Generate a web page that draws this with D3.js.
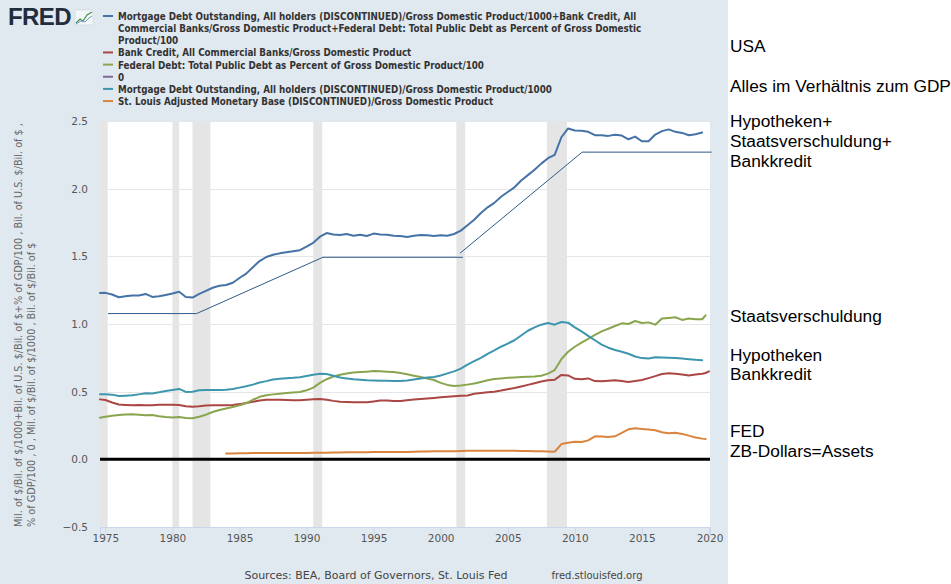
<!DOCTYPE html>
<html><head><meta charset="utf-8">
<script src="https://cdn.jsdelivr.net/npm/d3@7"></script>
<style>
html,body{margin:0;padding:0;background:#fff;}
svg{display:block;}
</style></head>
<body>
<svg id="chart" width="951" height="584"></svg>
<script>
// ---------- DATA ----------
const years = [1974.6,
 1975,1975.5,1976,1976.5,1977,1977.5,1978,1978.5,1979,1979.5,
 1980,1980.5,1981,1981.5,1982,1982.5,1983,1983.5,1984,1984.5,
 1985,1985.5,1986,1986.5,1987,1987.5,1988,1988.5,1989,1989.5,
 1990,1990.5,1991,1991.5,1992,1992.5,1993,1993.5,1994,1994.5,
 1995,1995.5,1996,1996.5,1997,1997.5,1998,1998.5,1999,1999.5,
 2000,2000.5,2001,2001.5,2002,2002.5,2003,2003.5,2004,2004.5,
 2005,2005.5,2006,2006.5,2007,2007.5,2008,2008.5,2009,2009.5,
 2010,2010.5,2011,2011.5,2012,2012.5,2013,2013.5,2014,2014.5,
 2015,2015.5,2016,2016.5,2017,2017.5,2018,2018.5,2019,2019.5,
 2019.75,2020];

// Sum series (blue)
const sumSeries = [1.229,
 1.230,1.218,1.198,1.205,1.210,1.210,1.222,1.200,1.205,1.215,
 1.225,1.238,1.200,1.195,1.222,1.245,1.268,1.282,1.288,1.305,
 1.340,1.372,1.420,1.465,1.495,1.512,1.522,1.530,1.538,1.545,
 1.572,1.600,1.645,1.672,1.662,1.658,1.665,1.652,1.660,1.650,
 1.668,1.662,1.660,1.652,1.650,1.643,1.652,1.658,1.655,1.650,
 1.655,1.652,1.665,1.690,1.730,1.770,1.820,1.862,1.895,1.940,
 1.975,2.010,2.060,2.100,2.140,2.185,2.225,2.250,2.380,2.445,
 2.430,2.428,2.420,2.395,2.395,2.390,2.398,2.392,2.365,2.385,
 2.350,2.350,2.400,2.425,2.438,2.420,2.412,2.395,2.402,2.415,
 null,null];

// Bank credit / GDP (red)
const bankCredit = [0.443,
 0.438,0.420,0.405,0.402,0.400,0.402,0.399,0.400,0.403,0.404,
 0.404,0.402,0.393,0.388,0.392,0.398,0.400,0.399,0.399,0.402,
 0.408,0.416,0.425,0.434,0.441,0.441,0.440,0.438,0.436,0.436,
 0.440,0.444,0.446,0.440,0.432,0.426,0.424,0.422,0.421,0.421,
 0.428,0.435,0.434,0.431,0.431,0.436,0.442,0.446,0.450,0.454,
 0.458,0.462,0.466,0.469,0.472,0.485,0.490,0.495,0.500,0.508,
 0.518,0.527,0.538,0.550,0.562,0.575,0.584,0.588,0.624,0.620,
 0.595,0.592,0.598,0.578,0.577,0.581,0.584,0.578,0.572,0.579,
 0.586,0.600,0.615,0.630,0.636,0.632,0.626,0.620,0.626,0.633,
 0.638,0.650];

// Federal debt % GDP / 100 (green)
const fedDebt = [0.308,
 0.315,0.322,0.328,0.332,0.334,0.330,0.326,0.327,0.318,0.312,
 0.310,0.312,0.306,0.304,0.315,0.330,0.350,0.365,0.375,0.387,
 0.400,0.415,0.440,0.462,0.473,0.480,0.485,0.490,0.493,0.497,
 0.510,0.530,0.565,0.592,0.612,0.625,0.635,0.642,0.645,0.648,
 0.652,0.650,0.648,0.645,0.638,0.628,0.618,0.608,0.598,0.586,
 0.565,0.550,0.542,0.545,0.552,0.560,0.572,0.585,0.594,0.598,
 0.602,0.605,0.608,0.610,0.612,0.618,0.633,0.660,0.740,0.795,
 0.832,0.862,0.890,0.920,0.945,0.965,0.985,1.005,1.000,1.022,
 1.008,1.012,0.995,1.040,1.045,1.050,1.030,1.040,1.035,1.035,
 1.064,null];

// Mortgage debt / GDP / 1000 (teal)
const mortgage = [0.480,
 0.480,0.478,0.468,0.470,0.473,0.480,0.488,0.487,0.495,0.505,
 0.512,0.520,0.498,0.500,0.510,0.512,0.512,0.513,0.515,0.520,
 0.530,0.540,0.552,0.568,0.578,0.590,0.595,0.600,0.602,0.606,
 0.615,0.625,0.632,0.630,0.618,0.605,0.598,0.592,0.588,0.584,
 0.582,0.581,0.580,0.579,0.579,0.582,0.590,0.598,0.604,0.608,
 0.620,0.635,0.650,0.670,0.700,0.725,0.750,0.780,0.805,0.832,
 0.855,0.880,0.915,0.950,0.975,0.995,1.008,0.995,1.015,1.010,
 0.975,0.945,0.912,0.880,0.848,0.825,0.808,0.795,0.780,0.760,
 0.748,0.745,0.754,0.752,0.750,0.749,0.745,0.740,0.735,0.732,
 null,null];

// St. Louis adjusted monetary base / GDP (orange)
const monetaryBase = [null,
 null,null,null,null,null,null,null,null,null,null,
 null,null,null,null,null,null,null,null,0.044,0.044,
 0.045,0.045,0.046,0.046,0.047,0.047,0.047,0.047,0.046,0.046,
 0.047,0.048,0.049,0.049,0.050,0.051,0.052,0.052,0.053,0.053,
 0.054,0.054,0.054,0.054,0.055,0.055,0.056,0.057,0.058,0.059,
 0.060,0.060,0.060,0.061,0.063,0.063,0.064,0.064,0.064,0.064,
 0.063,0.063,0.062,0.062,0.060,0.059,0.058,0.056,0.113,0.122,
 0.130,0.128,0.140,0.170,0.168,0.165,0.170,0.195,0.222,0.230,
 0.225,0.220,0.215,0.200,0.192,0.196,0.188,0.175,0.162,0.153,
 0.150,null];

// Zero line
const zeroLine = [0, 0];
const zeroYears = [1974.6, 2020.08];

const yTicks = [-0.5, 0.0, 0.5, 1.0, 1.5, 2.0, 2.5];
const xTicks = [1975,1980,1985,1990,1995,2000,2005,2010,2015,2020];

// NBER recessions (start, end)
const recessions = [[1974.6,1975.17],[1980.0,1980.5],[1981.5,1982.83],
  [1990.5,1991.17],[2001.17,2001.83],[2007.92,2009.42]];

// Hand-drawn annotation (year, value)
const annotYears  = [1975.2, 1981.8, 1991.22, 2001.66];
const annotValues = [1.077, 1.077, 1.493, 1.493];
const annot2Years  = [2001.44, 2010.55, 2020.2];
const annot2Values = [1.523, 2.270, 2.270];

const legendItems = [
  {label:["Mortgage Debt Outstanding, All holders (DISCONTINUED)/Gross Domestic Product/1000+Bank Credit, All",
          "Commercial Banks/Gross Domestic Product+Federal Debt: Total Public Debt as Percent of Gross Domestic",
          "Product/100"], color:"#4572a7"},
  {label:["Bank Credit, All Commercial Banks/Gross Domestic Product"], color:"#aa4643"},
  {label:["Federal Debt: Total Public Debt as Percent of Gross Domestic Product/100"], color:"#89a54e"},
  {label:["0"], color:"#80699b"},
  {label:["Mortgage Debt Outstanding, All holders (DISCONTINUED)/Gross Domestic Product/1000"], color:"#3d96ae"},
  {label:["St. Louis Adjusted Monetary Base (DISCONTINUED)/Gross Domestic Product"], color:"#db843d"}
];

const sideNotes = [
  {text:"USA", y:52},
  {text:"Alles im Verhältnis zum GDP", y:92},
  {text:"Hypotheken+", y:127},
  {text:"Staatsverschuldung+", y:147},
  {text:"Bankkredit", y:167},
  {text:"Staatsverschuldung", y:322},
  {text:"Hypotheken", y:361},
  {text:"Bankkredit", y:380},
  {text:"FED", y:437},
  {text:"ZB-Dollars=Assets", y:457}
];

// ---------- DRAW ----------
const svg = d3.select("#chart");
const W = 951, H = 584;
const panelW = 728;
const plot = {l:100, r:710, t:121, b:527};

svg.append("rect").attr("x",0).attr("y",0).attr("width",W).attr("height",H).attr("fill","#ffffff");
svg.append("rect").attr("x",0).attr("y",0).attr("width",panelW).attr("height",H).attr("fill","#e1e9f0");
svg.append("rect").attr("x",plot.l).attr("y",plot.t).attr("width",plot.r-plot.l).attr("height",plot.b-plot.t).attr("fill","#ffffff");

const x = d3.scaleLinear().domain([1974.6, 2020.08]).range([plot.l, plot.r]);
const y = d3.scaleLinear().domain([-0.5, 2.5]).range([plot.b, plot.t]);

// recession bands
svg.append("g").selectAll("rect").data(recessions).join("rect")
  .attr("x", d => x(d[0])).attr("y", plot.t)
  .attr("width", d => x(d[1]) - x(d[0])).attr("height", plot.b - plot.t)
  .attr("fill", "#e5e5e5");

// grid
svg.append("g").selectAll("line").data(yTicks).join("line")
  .attr("x1", plot.l).attr("x2", plot.r)
  .attr("y1", d => Math.round(y(d)) + 0.5).attr("y2", d => Math.round(y(d)) + 0.5)
  .attr("stroke", "#e6e6e6").attr("stroke-width", 1);

// y axis labels
const yAxis = d3.axisLeft(y).tickValues(yTicks).tickFormat(d3.format(".1f")).tickSize(0).tickPadding(12);
const gy = svg.append("g").attr("transform", `translate(${plot.l},0)`).call(yAxis);
gy.select(".domain").remove();
gy.selectAll("text").attr("font-family","DejaVu Sans, sans-serif").attr("font-size","10.5px").attr("fill","#555");

// x axis
const xAxis = d3.axisBottom(x).tickValues(xTicks).tickFormat(d3.format("d")).tickSize(8).tickPadding(0);
const gx = svg.append("g").attr("transform", `translate(0,${plot.b})`).call(xAxis);
gx.select(".domain").attr("stroke","#ccd6eb");
gx.selectAll(".tick line").attr("stroke","#ccd6eb");
gx.selectAll("text").attr("font-family","DejaVu Sans, sans-serif").attr("font-size","10.5px").attr("fill","#555");
gx.selectAll(".tick").filter(d => d === 2020).select("text").attr("text-anchor","end").attr("dx","14px");

// lines
const mkLine = vals => d3.line()
  .defined((d,i) => vals[i] != null)
  .x((d,i) => x(years[i])).y((d,i) => y(vals[i]));

const seriesList = [
  {vals: bankCredit, color:"#aa4643"},
  {vals: fedDebt, color:"#89a54e"},
  {vals: mortgage, color:"#3d96ae"},
  {vals: monetaryBase, color:"#db843d"},
  {vals: sumSeries, color:"#4572a7"}
];
seriesList.forEach(s => {
  svg.append("path").datum(years).attr("d", mkLine(s.vals))
    .attr("fill","none").attr("stroke", s.color).attr("stroke-width", 2)
    .attr("stroke-linejoin","round").attr("stroke-linecap","round");
});

// zero line (black)
svg.append("path").datum(zeroYears)
  .attr("d", d3.line().x(d => x(d)).y((d,i) => y(zeroLine[i])))
  .attr("fill","none").attr("stroke","#000").attr("stroke-width",3);

// annotations
svg.append("path").datum(annotYears)
  .attr("d", d3.line().x(d => x(d)).y((d,i) => y(annotValues[i])))
  .attr("fill","none").attr("stroke","#2e5a8a").attr("stroke-width",1);
svg.append("path").datum(annot2Years)
  .attr("d", d3.line().x(d => x(d)).y((d,i) => y(annot2Values[i])))
  .attr("fill","none").attr("stroke","#2e5a8a").attr("stroke-width",1);

// y axis title (two lines, rotated)
const yTitle = ["Mil. of $/Bil. of $/1000+Bil. of U.S. $/Bil. of $+% of GDP/100 , Bil. of U.S. $/Bil. of $ ,",
                "% of GDP/100 , 0 , Mil. of $/Bil. of $/1000 , Bil. of $/Bil. of $"];
yTitle.forEach((t,i) => {
  svg.append("text").attr("transform", `translate(${22 + i*13},527) rotate(-90)`)
    .attr("font-family","DejaVu Sans, sans-serif").attr("font-size","9.7px").attr("fill","#666")
    .text(t);
});

// legend
let ly = 20;
const lg = svg.append("g");
legendItems.forEach(item => {
  lg.append("line").attr("x1",103).attr("x2",113).attr("y1",ly-4).attr("y2",ly-4)
    .attr("stroke",item.color).attr("stroke-width",2);
  item.label.forEach(l => {
    lg.append("text").attr("x",118).attr("y",ly)
      .attr("font-family","DejaVu Sans Condensed, DejaVu Sans, sans-serif")
      .attr("font-weight","bold").attr("font-size","9.75px").attr("fill","#333").text(l);
    ly += 12.15;
  });
});

// FRED logo
svg.append("text").attr("x",8).attr("y",25).attr("font-family","Liberation Sans, Arial, sans-serif")
  .attr("font-weight","bold").attr("font-size","24px").attr("fill","#1f2d3d").attr("letter-spacing","-0.6px").text("FRED");
const icon = svg.append("g").attr("transform","translate(75,10)");
icon.append("rect").attr("width",18).attr("height",15).attr("fill","#f4f7f9").attr("stroke","#c9d3dc").attr("stroke-width",0.6);
icon.append("polyline").attr("points","1,13 5,9 8,11 12,5 17,2").attr("fill","none").attr("stroke","#4a8f4a").attr("stroke-width",1.2);
icon.append("polyline").attr("points","1,14 6,11 10,12 14,8 17,6").attr("fill","none").attr("stroke","#6b98c4").attr("stroke-width",1);

// footer
svg.append("text").attr("x",376).attr("y",579).attr("text-anchor","middle")
  .attr("font-family","DejaVu Sans, sans-serif").attr("font-size","11px").attr("fill","#444")
  .text("Sources: BEA, Board of Governors, St. Louis Fed");
svg.append("text").attr("x",597).attr("y",579).attr("text-anchor","middle")
  .attr("font-family","DejaVu Sans, sans-serif").attr("font-size","10px").attr("fill","#444")
  .text("fred.stlouisfed.org");

// side notes
svg.append("g").selectAll("text").data(sideNotes).join("text")
  .attr("x",730).attr("y",d => d.y)
  .attr("font-family","Liberation Sans, Arial, sans-serif").attr("font-size","17.3px").attr("fill","#000")
  .text(d => d.text);
</script>
</body></html>
